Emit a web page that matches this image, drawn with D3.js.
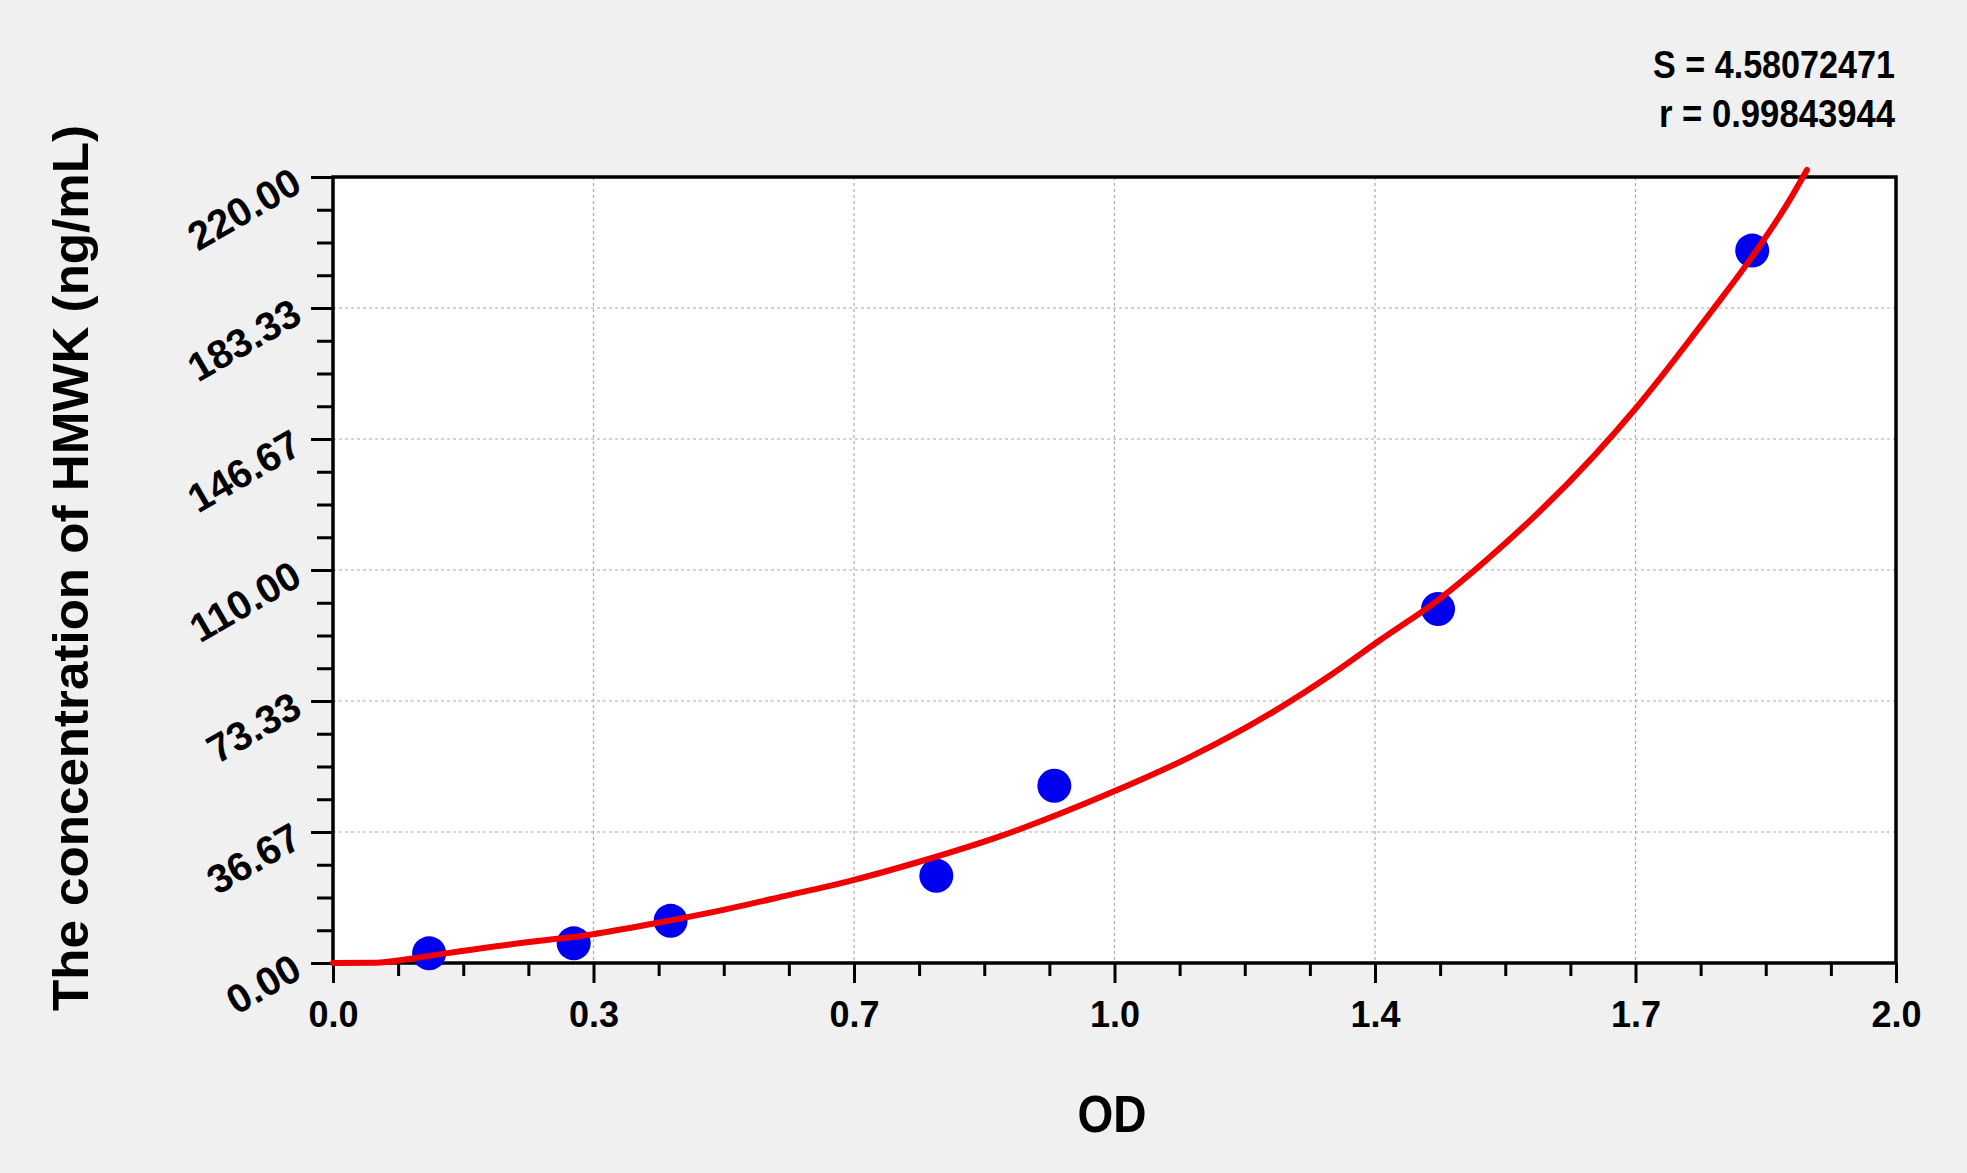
<!DOCTYPE html>
<html>
  <head>
    <script src="https://d3js.org/d3.v7.min.js" charset="utf-8"></script>
    <meta charset="UTF-8">
    <title>HMWK standard curve</title>
    <style>
      body { margin: 0; background: #f0f0f0; }
      text { font-family: "Liberation Sans", Arial, sans-serif; font-weight: bold; fill: #000; }
    </style>
  </head>
  <body>
    <svg class="chart"></svg>
    <script type="text/javascript">

      // standards (OD vs concentration)
      var pointOD   = [0.123, 0.308, 0.432, 0.772, 0.923, 1.414, 1.816];
      var pointConc = [2.7, 5.5, 11.8, 24.4, 49.6, 99.1, 199.4];

      // fitted curve
      var curveOD   = [0, 0.056, 0.123, 0.163, 0.248, 0.331, 0.414, 0.498, 0.583, 0.662, 0.748, 0.854,
                       0.998, 1.097, 1.203, 1.280, 1.340, 1.414, 1.476, 1.613, 1.666, 1.766, 1.813, 1.864, 1.886];
      var curveConc = [0, 0.1, 2.0, 3.3, 5.8, 8.0, 11.2, 14.8, 19.0, 23.0, 28.2, 35.5,
                       47.9, 57.7, 70.3, 81.1, 90.4, 101.6, 112.8, 141.8, 155.0, 183.0, 196.8, 213.6, 222.0];

      var xTicks = [0, 1/3, 2/3, 1, 4/3, 5/3, 2];
      var xTickLabels = ["0.0", "0.3", "0.7", "1.0", "1.4", "1.7", "2.0"];
      var yTicks = [0, 220/6, 440/6, 110, 880/6, 1100/6, 220];
      var yTickLabels = ["0.00", "36.67", "73.33", "110.00", "146.67", "183.33", "220.00"];

      var statLines = ["S = 4.58072471", "r = 0.99843944"];

      var width = 1967,
          height = 1173,
          plotLeft = 333, plotRight = 1896, plotTop = 177, plotBottom = 963;

      var chart = d3.select(".chart")
          .attr("width", width)
          .attr("height", height);

      chart.append("rect")
          .attr("width", width).attr("height", height)
          .attr("fill", "#f0f0f0");

      var x = d3.scaleLinear().domain([0, 2]).range([plotLeft, plotRight]);
      var y = d3.scaleLinear().domain([0, 220]).range([plotBottom, plotTop]);

      chart.append("rect")
          .attr("x", plotLeft).attr("y", plotTop)
          .attr("width", plotRight - plotLeft).attr("height", plotBottom - plotTop)
          .attr("fill", "#fff");

      // grid
      var grid = chart.append("g").attr("stroke", "#aaa").attr("stroke-width", 1.2)
          .attr("stroke-dasharray", "3,3");
      grid.selectAll(".vg").data(xTicks.slice(1, -1)).enter().append("line")
          .attr("x1", function(d) { return x(d); }).attr("x2", function(d) { return x(d); })
          .attr("y1", plotTop).attr("y2", plotBottom);
      grid.selectAll(".hg").data(yTicks.slice(1, -1)).enter().append("line")
          .attr("y1", function(d) { return y(d); }).attr("y2", function(d) { return y(d); })
          .attr("x1", plotLeft).attr("x2", plotRight);

      // minor ticks
      var xMinor = d3.range(0, 24).map(function(i) { return i / 12; }).filter(function(d, i) { return i % 4 !== 0; });
      var yMinor = d3.range(0, 24).map(function(i) { return i * 220 / 24; }).filter(function(d, i) { return i % 4 !== 0; });

      var xMinorAxis = chart.append("g")
          .attr("transform", "translate(0," + plotBottom + ")")
          .call(d3.axisBottom(x).tickValues(xMinor).tickSize(13).tickFormat(""));
      var yMinorAxis = chart.append("g")
          .attr("transform", "translate(" + plotLeft + ",0)")
          .call(d3.axisLeft(y).tickValues(yMinor).tickSize(16).tickFormat(""));

      var xAxis = chart.append("g")
          .attr("transform", "translate(0," + plotBottom + ")")
          .call(d3.axisBottom(x).tickValues(xTicks).tickSize(20)
                .tickFormat(function(d, i) { return xTickLabels[i]; }));
      var yAxis = chart.append("g")
          .attr("transform", "translate(" + plotLeft + ",0)")
          .call(d3.axisLeft(y).tickValues(yTicks).tickSize(22)
                .tickFormat(function(d, i) { return yTickLabels[i]; }));

      [xMinorAxis, yMinorAxis, xAxis, yAxis].forEach(function(a) {
        a.select(".domain").remove();
        a.selectAll(".tick line").attr("stroke", "#000").attr("stroke-width", 3);
      });

      xAxis.selectAll(".tick text")
          .attr("font-size", 36).attr("font-family", null).attr("fill", "#000")
          .attr("y", 0).attr("dy", null)
          .attr("transform", "translate(0,64)");

      yAxis.selectAll(".tick text")
          .attr("font-size", 40).attr("font-family", null).attr("fill", "#000")
          .attr("x", 0).attr("dy", null).attr("text-anchor", "end")
          .attr("transform", "translate(-29,13) rotate(-30)");

      // frame
      chart.append("rect")
          .attr("x", plotLeft).attr("y", plotTop)
          .attr("width", plotRight - plotLeft).attr("height", plotBottom - plotTop)
          .attr("fill", "none").attr("stroke", "#000").attr("stroke-width", 3.5);

      // points
      chart.append("g").selectAll("circle")
          .data(pointOD).enter().append("circle")
          .attr("cx", function(d) { return x(d); })
          .attr("cy", function(d, i) { return y(pointConc[i]); })
          .attr("r", 17)
          .attr("fill", "#0000f0");

      // fitted curve
      var line = d3.line()
          .x(function(d) { return x(d); })
          .y(function(d, i) { return y(curveConc[i]); })
          .curve(d3.curveMonotoneX);

      chart.append("path")
          .datum(curveOD)
          .attr("d", line)
          .attr("fill", "none")
          .attr("stroke", "#f00000")
          .attr("stroke-width", 6)
          .attr("stroke-linejoin", "round")
          .attr("stroke-linecap", "round");

      // titles
      chart.append("text")
          .attr("x", 1112).attr("y", 1132)
          .attr("text-anchor", "middle")
          .attr("font-size", 51)
          .attr("textLength", 69).attr("lengthAdjust", "spacingAndGlyphs")
          .text("OD");

      chart.append("text")
          .attr("transform", "translate(88,568) rotate(-90)")
          .attr("text-anchor", "middle")
          .attr("font-size", 50)
          .attr("textLength", 886).attr("lengthAdjust", "spacingAndGlyphs")
          .text("The concentration of HMWK (ng/mL)");

      chart.selectAll(".stat").data(statLines).enter().append("text")
          .attr("class", "stat")
          .attr("x", 1895)
          .attr("y", function(d, i) { return 78 + i * 49; })
          .attr("text-anchor", "end")
          .attr("font-size", 38)
          .attr("textLength", function(d, i) { return i === 0 ? 242 : 236; })
          .attr("lengthAdjust", "spacingAndGlyphs")
          .text(function(d) { return d; });

    </script>
  </body>
</html>
